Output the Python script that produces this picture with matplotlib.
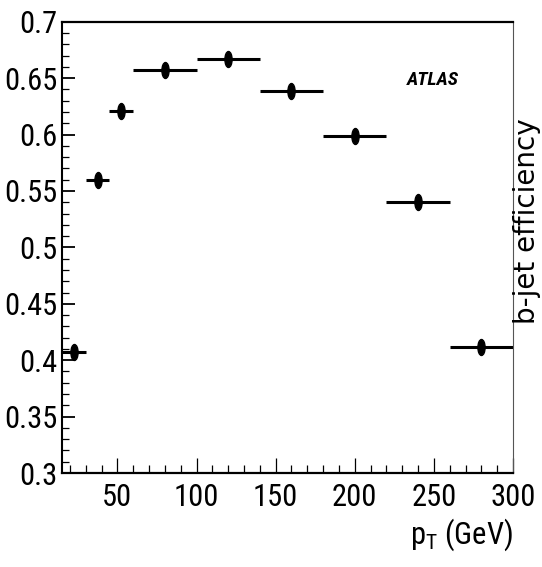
import os
import matplotlib
matplotlib.use("Agg")
import matplotlib.pyplot as plt
from matplotlib import font_manager
from matplotlib.font_manager import FontProperties
from matplotlib.path import Path
from matplotlib.transforms import Affine2D
from matplotlib.ticker import MultipleLocator, FixedFormatter, FixedLocator

# ---- data ----
pt_center = [22.5, 37.5, 52.5, 80, 120, 160, 200, 240, 280]
pt_halfwidth = [7.5, 7.5, 7.5, 20, 20, 20, 20, 20, 20]
efficiency = [0.407, 0.560, 0.621, 0.657, 0.667, 0.639, 0.599, 0.540, 0.412]
x_ticks = [50, 100, 150, 200, 250, 300]
x_ticklabels = ["50", "100", "150", "200", "250", "300"]
y_ticks = [0.3, 0.35, 0.4, 0.45, 0.5, 0.55, 0.6, 0.65, 0.7]
y_ticklabels = ["0.3", "0.35", "0.4", "0.45", "0.5", "0.55", "0.6", "0.65", "0.7"]

# ---- pick a narrow sans font if one is installed ----
def find_font(prefs):
    files = {os.path.basename(f.fname).lower(): f for f in font_manager.fontManager.ttflist}
    for p in prefs:
        for base, f in files.items():
            if base.startswith(p.lower()):
                return f
    return None

reg = find_font(["LiberationSansNarrow-Regular", "ArialNarrow", "RobotoCondensed-Regular",
                 "Roboto_Condensed-Regular", "OpenSans_Condensed-Regular",
                 "OpenSansCondensed-Light", "NotoSans-CondensedRegular", "NotoSans-Condensed.",
                 "DejaVuSansCondensed."])
bi = find_font(["LiberationSansNarrow-BoldItalic", "ArialNarrow-BoldItalic",
                "RobotoCondensed-BoldItalic", "Roboto_Condensed-BoldItalic",
                "NotoSans-CondensedBoldItalic", "DejaVuSansCondensed-BoldOblique"])

def fp(entry, size, fallback_kwargs):
    if entry is not None:
        return FontProperties(fname=entry.fname, size=size)
    return FontProperties(size=size, **fallback_kwargs)

narrow_name = reg.name if reg is not None else "Liberation Sans"
plt.rcParams["mathtext.fontset"] = "custom"
plt.rcParams["mathtext.rm"] = narrow_name

fig = plt.figure(figsize=(5.42, 5.67), dpi=100)
ax = fig.add_axes([62/542, 1-473/567, (513-62)/542, (473-21.8)/567])

ellipse = Path.unit_circle().transformed(Affine2D().scale(0.45, 1.0))

ax.errorbar(pt_center, efficiency, xerr=pt_halfwidth, fmt="none",
            ecolor="black", elinewidth=2.2, capsize=0, zorder=2)
ax.plot(pt_center, efficiency, linestyle="none", marker=ellipse,
        markersize=11.5, color="black", zorder=3)

ax.set_xlim(15, 300)
ax.set_ylim(0.3, 0.7)

ax.xaxis.set_major_locator(FixedLocator(x_ticks))
ax.xaxis.set_major_formatter(FixedFormatter(x_ticklabels))
ax.xaxis.set_minor_locator(MultipleLocator(10))
ax.yaxis.set_major_locator(FixedLocator(y_ticks))
ax.yaxis.set_major_formatter(FixedFormatter(y_ticklabels))
ax.yaxis.set_minor_locator(MultipleLocator(0.01))

ax.tick_params(axis="both", which="both", direction="in", top=False, right=False,
               color="black")
ax.tick_params(axis="x", which="major", length=11, width=0.9, pad=7)
ax.tick_params(axis="x", which="minor", length=6, width=0.9)
ax.tick_params(axis="y", which="major", length=9, width=1.3, pad=3)
ax.tick_params(axis="y", which="minor", length=5, width=0.9)

tick_size = 22 if reg is not None else 19
tick_fp = fp(reg, tick_size, {"family": "Liberation Sans"})
for lab in ax.get_xticklabels() + ax.get_yticklabels():
    lab.set_fontproperties(tick_fp)

for side, lw in [("left", 1.5), ("bottom", 1.6), ("top", 1.6), ("right", 0.8)]:
    ax.spines[side].set_linewidth(lw)
ax.spines["right"].set_color("#555555")

ax.text(0.823, 0.872, "ATLAS", transform=ax.transAxes, ha="center", va="center",
        fontproperties=fp(bi, 14 if bi is not None else 12.5,
                          {"family": "Liberation Sans", "weight": "bold", "style": "italic"}))

fig.text(513/542, 1-553/567, r"p$_{\mathregular{T}}$ (GeV)", ha="right", va="bottom",
         fontproperties=fp(reg, 22 if reg is not None else 19, {"family": "Liberation Sans"}))

fig.text(0.998, 1-221/567, "b-jet efficiency", rotation=90, ha="right", va="center",
         fontsize=20, family=["DejaVu Sans"])

fig.savefig("out.png", dpi=100)
